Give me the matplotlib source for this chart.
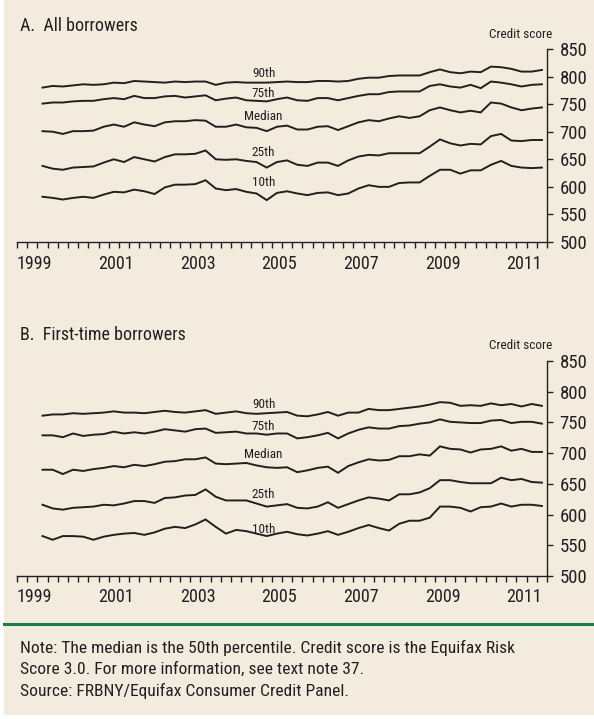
import matplotlib
matplotlib.use("Agg")
import matplotlib.pyplot as plt
from matplotlib.patches import Rectangle
from matplotlib.lines import Line2D
import numpy as np

plt.rcParams['font.family'] = ['Roboto Condensed', 'DejaVu Sans']

# quarterly observations, 1999Q3 .. 2011Q4
quarters = [f"{y}Q{q}" for y in range(1999, 2012) for q in range(1, 5)][2:]

A90 = [780, 783, 782, 784, 786, 785, 786, 789, 788, 792, 791, 790, 789, 791, 790, 791, 791, 785, 789, 790,
       789, 789, 789, 790, 791, 790, 790, 792, 792, 791, 792, 796, 798, 798, 801, 802, 802, 802, 808, 813,
       808, 806, 809, 808, 818, 817, 814, 809, 809, 812]
A75 = [751, 753, 753, 755, 756, 756, 759, 761, 759, 765, 761, 761, 764, 765, 762, 764, 766, 757, 760, 762,
       757, 756, 755, 759, 762, 757, 756, 761, 761, 757, 761, 765, 768, 768, 772, 773, 773, 773, 783, 786,
       782, 780, 785, 779, 791, 789, 786, 782, 785, 786]
AMED = [701, 700, 696, 701, 701, 702, 709, 713, 709, 717, 713, 710, 717, 719, 719, 721, 720, 709, 709, 713,
        708, 707, 701, 709, 711, 704, 704, 709, 710, 703, 710, 717, 721, 719, 724, 728, 725, 728, 739, 744,
        739, 735, 738, 735, 753, 751, 744, 739, 742, 744]
A25 = [638, 633, 631, 635, 636, 637, 644, 650, 645, 654, 650, 646, 654, 659, 659, 660, 666, 650, 649, 650,
       647, 645, 635, 645, 648, 640, 638, 644, 644, 638, 648, 655, 658, 657, 661, 661, 661, 661, 673, 686,
       679, 675, 678, 677, 692, 696, 684, 683, 685, 685]
A10 = [582, 580, 577, 580, 582, 580, 586, 591, 590, 595, 592, 587, 599, 604, 604, 605, 612, 597, 594, 596,
       591, 588, 576, 589, 592, 588, 585, 589, 590, 585, 588, 597, 603, 600, 600, 607, 608, 608, 620, 631,
       631, 624, 630, 630, 640, 647, 638, 635, 634, 635]

B90 = [761, 763, 763, 765, 764, 765, 766, 768, 766, 766, 765, 767, 769, 767, 766, 768, 770, 764, 766, 768,
       765, 764, 765, 766, 767, 761, 760, 763, 767, 761, 766, 766, 772, 770, 770, 772, 774, 776, 779, 783,
       782, 777, 778, 777, 781, 778, 780, 776, 780, 777]
B75 = [729, 729, 726, 732, 728, 730, 731, 735, 732, 734, 732, 735, 739, 737, 735, 739, 740, 733, 734, 735,
       732, 732, 730, 732, 732, 724, 726, 729, 733, 724, 732, 738, 742, 740, 740, 744, 745, 748, 750, 755,
       751, 750, 749, 749, 753, 754, 749, 751, 751, 748]
BMED = [673, 673, 666, 673, 671, 674, 676, 679, 677, 681, 679, 682, 686, 687, 690, 690, 693, 683, 682, 683,
        684, 680, 677, 676, 677, 669, 672, 676, 678, 668, 679, 685, 690, 688, 689, 695, 695, 698, 696, 711,
        707, 706, 701, 706, 707, 711, 704, 707, 702, 702]
B25 = [616, 610, 608, 611, 612, 613, 616, 615, 618, 622, 622, 619, 627, 628, 631, 632, 641, 629, 623, 623,
       623, 618, 613, 615, 617, 611, 610, 613, 620, 611, 617, 623, 628, 626, 623, 633, 633, 636, 643, 656,
       656, 653, 651, 651, 651, 660, 656, 658, 653, 652]
B10 = [565, 559, 565, 565, 564, 559, 564, 567, 569, 570, 567, 571, 577, 580, 578, 584, 592, 580, 569, 575,
       573, 569, 565, 569, 572, 568, 566, 569, 573, 567, 572, 578, 583, 578, 574, 585, 590, 590, 595, 613,
       613, 611, 605, 612, 613, 618, 613, 616, 616, 614]

series_labels = ["90th", "75th", "Median", "25th", "10th"]
labelA_y = [806, 770, 727, 663, 607]
labelB_y = [780, 744, 697, 632, 576]
label_x = 2005.05
year_labels = ["1999", "2001", "2003", "2005", "2007", "2009", "2011"]
y_ticks = [500, 550, 600, 650, 700, 750, 800, 850]

def qpos(q):
    y, n = int(q[:4]), int(q[-1])
    return y + (n - 1) * 0.25 + 0.125

xs = np.array([qpos(q) for q in quarters])

BG = '#F4EBDF'
INK = '#231F20'

fig = plt.figure(figsize=(5.94, 7.19), dpi=100)
fig.patch.set_facecolor('white')
fig.patches.append(Rectangle((4/594, 4/719), 590/594, 715/719, transform=fig.transFigure,
                             facecolor=BG, edgecolor='none', zorder=-10))

def panel(rect, data, labys):
    ax = fig.add_axes(rect)
    ax.set_facecolor('none')
    for vals in data:
        ax.plot(xs, vals, color=INK, lw=1.4, solid_joinstyle='miter')
    for lab, ly in zip(series_labels, labys):
        ax.text(label_x, ly, lab, ha='center', va='center', fontsize=9.5, color=INK)
    ax.set_xlim(1999, 2012)
    ax.set_ylim(500, 850)
    for s in ['top', 'left']:
        ax.spines[s].set_visible(False)
    for s in ['bottom', 'right']:
        ax.spines[s].set_color(INK)
        ax.spines[s].set_linewidth(1.0)
    ax.yaxis.tick_right()
    ax.set_yticks(y_ticks)
    ax.set_yticklabels([str(v) for v in y_ticks])
    ax.tick_params(axis='y', direction='out', length=4, width=1.0, color=INK,
                   labelsize=13.5, labelcolor=INK, pad=5)
    ax.set_xticks([int(y) for y in year_labels])
    ax.set_xticklabels(year_labels, ha='left')
    ax.set_xticks(np.arange(1999, 2012.01, 0.25), minor=True)
    ax.tick_params(axis='x', which='both', direction='out', length=4, width=1.0, color=INK,
                   labelsize=13, labelcolor=INK, pad=5)
    ax.text(1.01, 1.04, "Credit score", transform=ax.transAxes, ha='right', va='bottom',
            fontsize=9.5, color=INK)
    return ax

axA = panel([17/594, 1 - 242/719, 530/594, 193/719], [A90, A75, AMED, A25, A10], labelA_y)
axB = panel([17/594, 1 - 576/719, 530/594, 215/719], [B90, B75, BMED, B25, B10], labelB_y)

fig.text(20/594, 1 - 26/719, "A.  All borrowers", fontsize=13, color=INK, va='center', ha='left')
fig.text(20/594, 1 - 335/719, "B.  First-time borrowers", fontsize=13, color=INK, va='center', ha='left')

fig.add_artist(Line2D([4/594, 1], [1 - 624/719, 1 - 624/719], transform=fig.transFigure,
                      color='#1E7A55', lw=2.2))
fig.text(20/594, 1 - 648/719, "Note: The median is the 50th percentile. Credit score is the Equifax Risk",
         fontsize=12.6, color=INK, va='center', ha='left')
fig.text(20/594, 1 - 669/719, "Score 3.0. For more information, see text note 37.",
         fontsize=12.6, color=INK, va='center', ha='left')
fig.text(20/594, 1 - 691/719, "Source: FRBNY/Equifax Consumer Credit Panel.",
         fontsize=12.6, color=INK, va='center', ha='left')

fig.savefig("out.png", dpi=100, facecolor=fig.get_facecolor())
